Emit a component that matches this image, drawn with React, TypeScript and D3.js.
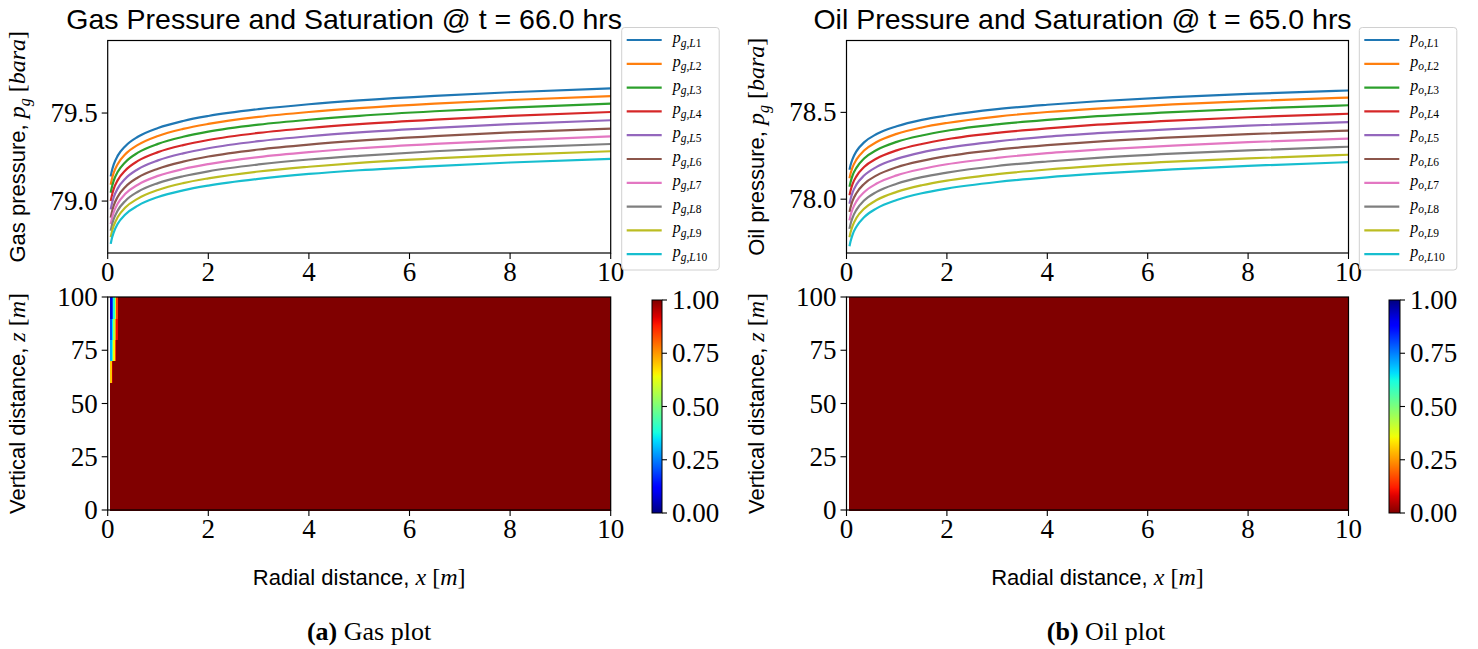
import React from "react";
import * as d3 from "d3";

// ---------------- DATA ----------------
const radial = [0.06, 0.08, 0.12, 0.2, 0.35, 0.6, 1, 1.5, 2, 3, 4, 5, 6.5, 8, 10];

const gasL1 = [79.14, 79.168, 79.208, 79.258, 79.312, 79.365, 79.415, 79.455, 79.483, 79.522, 79.55, 79.572, 79.598, 79.618, 79.64];
const gasL2 = [79.093, 79.121, 79.161, 79.211, 79.266, 79.319, 79.37, 79.41, 79.438, 79.478, 79.506, 79.528, 79.554, 79.574, 79.596];
const gasL3 = [79.047, 79.075, 79.116, 79.166, 79.221, 79.275, 79.325, 79.365, 79.394, 79.434, 79.462, 79.484, 79.51, 79.531, 79.553];
const gasL4 = [79.0, 79.028, 79.069, 79.119, 79.174, 79.228, 79.278, 79.318, 79.347, 79.387, 79.415, 79.437, 79.463, 79.484, 79.506];
const gasL5 = [78.953, 78.981, 79.022, 79.072, 79.127, 79.181, 79.231, 79.271, 79.3, 79.34, 79.368, 79.39, 79.416, 79.437, 79.459];
const gasL6 = [78.906, 78.934, 78.975, 79.025, 79.08, 79.134, 79.184, 79.224, 79.253, 79.293, 79.321, 79.343, 79.369, 79.39, 79.412];
const gasL7 = [78.869, 78.897, 78.937, 78.986, 79.041, 79.093, 79.143, 79.182, 79.21, 79.25, 79.278, 79.3, 79.325, 79.345, 79.367];
const gasL8 = [78.831, 78.859, 78.898, 78.947, 79.001, 79.053, 79.102, 79.141, 79.169, 79.208, 79.236, 79.257, 79.283, 79.303, 79.324];
const gasL9 = [78.794, 78.822, 78.86, 78.909, 78.963, 79.014, 79.063, 79.102, 79.129, 79.168, 79.195, 79.217, 79.242, 79.262, 79.283];
const gasL10 = [78.757, 78.784, 78.822, 78.871, 78.924, 78.974, 79.023, 79.061, 79.088, 79.126, 79.154, 79.175, 79.199, 79.219, 79.24];

const oilL1 = [78.169, 78.195, 78.231, 78.277, 78.327, 78.375, 78.42, 78.457, 78.482, 78.519, 78.544, 78.564, 78.588, 78.606, 78.626];
const oilL2 = [78.12, 78.146, 78.183, 78.229, 78.28, 78.329, 78.376, 78.413, 78.439, 78.476, 78.502, 78.522, 78.546, 78.565, 78.585];
const oilL3 = [78.072, 78.098, 78.136, 78.182, 78.234, 78.283, 78.33, 78.367, 78.394, 78.431, 78.457, 78.478, 78.502, 78.521, 78.541];
const oilL4 = [78.023, 78.049, 78.087, 78.133, 78.185, 78.234, 78.281, 78.318, 78.345, 78.382, 78.408, 78.429, 78.453, 78.472, 78.492];
const oilL5 = [77.974, 78.0, 78.038, 78.085, 78.136, 78.186, 78.232, 78.27, 78.296, 78.333, 78.36, 78.38, 78.404, 78.424, 78.444];
const oilL6 = [77.926, 77.952, 77.99, 78.036, 78.088, 78.137, 78.184, 78.221, 78.248, 78.285, 78.311, 78.332, 78.356, 78.375, 78.395];
const oilL7 = [77.878, 77.905, 77.942, 77.989, 78.04, 78.09, 78.137, 78.174, 78.201, 78.238, 78.265, 78.285, 78.309, 78.329, 78.349];
const oilL8 = [77.829, 77.856, 77.893, 77.94, 77.992, 78.042, 78.089, 78.127, 78.153, 78.191, 78.217, 78.238, 78.262, 78.281, 78.302];
const oilL9 = [77.781, 77.808, 77.845, 77.893, 77.945, 77.995, 78.042, 78.08, 78.107, 78.144, 78.171, 78.192, 78.216, 78.235, 78.256];
const oilL10 = [77.729, 77.756, 77.795, 77.843, 77.896, 77.947, 77.995, 78.034, 78.061, 78.099, 78.126, 78.147, 78.172, 78.192, 78.213];

const gasSeries = [gasL1, gasL2, gasL3, gasL4, gasL5, gasL6, gasL7, gasL8, gasL9, gasL10];
const oilSeries = [oilL1, oilL2, oilL3, oilL4, oilL5, oilL6, oilL7, oilL8, oilL9, oilL10];
const layerNames = ["1", "2", "3", "4", "5", "6", "7", "8", "9", "10"];

const xTicks = [0, 2, 4, 6, 8, 10];
const gasYTicks = [79.0, 79.5];
const oilYTicks = [78.0, 78.5];
const zTicks = [0, 25, 50, 75, 100];
const cbTicks = [0, 0.25, 0.5, 0.75, 1];

// saturation grid (radial cell edges, depth cell edges), rows bottom -> top
const satRadialEdges = [0.05, 0.08, 0.11, 0.14, 0.17, 0.2, 10];
const satDepthEdges = [0, 10, 20, 30, 40, 50, 60, 70, 80, 90, 100];
const gasSat = [
  [1, 1, 1, 1, 1, 1],
  [1, 1, 1, 1, 1, 1],
  [1, 1, 1, 1, 1, 1],
  [1, 1, 1, 1, 1, 1],
  [1, 1, 1, 1, 1, 1],
  [1, 1, 1, 1, 1, 1],
  [0.7, 0.95, 1, 1, 1, 1],
  [0.3, 0.45, 0.65, 0.85, 1, 1],
  [0.2, 0.35, 0.55, 0.75, 0.9, 1],
  [0.08, 0.2, 0.4, 0.6, 0.85, 1],
];
const oilSat = [
  [0, 0, 0, 0, 0, 0],
  [0, 0, 0, 0, 0, 0],
  [0, 0, 0, 0, 0, 0],
  [0, 0, 0, 0, 0, 0],
  [0, 0, 0, 0, 0, 0],
  [0, 0, 0, 0, 0, 0],
  [0, 0, 0, 0, 0, 0],
  [0, 0, 0, 0, 0, 0],
  [0, 0, 0, 0, 0, 0],
  [0, 0, 0, 0, 0, 0],
];

// ---------------- STYLE ----------------
const SANS = "'Liberation Sans', Arial, sans-serif";
const SERIF = "'Liberation Serif', 'Times New Roman', serif";
const colors = d3.schemeCategory10;

const jetR = d3.scaleLinear().domain([0, 0.35, 0.66, 0.89, 1]).range([0, 0, 1, 1, 0.5]).clamp(true);
const jetG = d3.scaleLinear().domain([0, 0.125, 0.375, 0.64, 0.91, 1]).range([0, 0, 1, 1, 0, 0]).clamp(true);
const jetB = d3.scaleLinear().domain([0, 0.11, 0.34, 0.65, 1]).range([0.5, 1, 1, 0, 0]).clamp(true);
const jet = (t: number) => d3.rgb(255 * jetR(t), 255 * jetG(t), 255 * jetB(t)).formatHex();
const jetRev = (t: number) => jet(1 - t);

const TOP_Y0 = 40.5, TOP_Y1 = 253;
const BOT_Y0 = 297, BOT_Y1 = 510;
const TICK_FS = 27;
const LABEL_FS = 22;

type PanelProps = {
  id: string;
  x0: number;
  x1: number;
  sym: string;
  series: number[][];
  yDomain: [number, number];
  yTicks: number[];
  title: string;
  yLabel: string;
  sat: number[][];
  cmap: (t: number) => string;
  cbX: number;
  cbW: number;
  legendX: number;
  caption: [string, string];
  captionX: number;
};

function Panel(p: PanelProps) {
  const xs = d3.scaleLinear().domain([0, 10]).range([p.x0, p.x1]);
  const ys = d3.scaleLinear().domain(p.yDomain).range([TOP_Y1, TOP_Y0]);
  const zs = d3.scaleLinear().domain([0, 100]).range([BOT_Y1, BOT_Y0]);
  const cbs = d3.scaleLinear().domain([0, 1]).range([513, 300]);
  const line = d3
    .line<number>()
    .x((_, i) => xs(radial[i]))
    .y((d) => ys(d))
    .curve(d3.curveMonotoneX);
  const cx = (p.x0 + p.x1) / 2;
  const gradStops = d3.range(0, 1.0001, 0.02);
  const legendY0 = 27.5;
  const legendStep = 23.8;

  return (
    <g>
      <defs>
        <clipPath id={`clip-${p.id}`}>
          <rect x={p.x0} y={TOP_Y0} width={p.x1 - p.x0} height={TOP_Y1 - TOP_Y0} />
        </clipPath>
        <linearGradient id={`grad-${p.id}`} x1="0" y1="1" x2="0" y2="0">
          {gradStops.map((t) => (
            <stop key={t} offset={t} stopColor={p.cmap(t)} />
          ))}
        </linearGradient>
      </defs>

      {/* title */}
      <text x={cx - 15} y={29} textAnchor="middle" fontFamily={SANS} fontSize={28.5}>
        {p.title}
      </text>

      {/* top pressure plot */}
      <g clipPath={`url(#clip-${p.id})`}>
        {p.series.map((s, i) => (
          <path key={i} d={line(s) || ""} fill="none" stroke={colors[i]} strokeWidth={2.2} />
        ))}
      </g>
      <rect x={p.x0} y={TOP_Y0} width={p.x1 - p.x0} height={TOP_Y1 - TOP_Y0} fill="none" stroke="#000" strokeWidth={1.2} />
      {xTicks.map((t) => (
        <g key={t}>
          <line x1={xs(t)} x2={xs(t)} y1={TOP_Y1} y2={TOP_Y1 + 6} stroke="#000" strokeWidth={1.1} />
          <text x={xs(t)} y={TOP_Y1 + 28} textAnchor="middle" fontFamily={SERIF} fontSize={TICK_FS}>
            {t}
          </text>
        </g>
      ))}
      {p.yTicks.map((t) => (
        <g key={t}>
          <line x1={p.x0 - 6} x2={p.x0} y1={ys(t)} y2={ys(t)} stroke="#000" strokeWidth={1.1} />
          <text x={p.x0 - 10} y={ys(t) + 9} textAnchor="end" fontFamily={SERIF} fontSize={TICK_FS}>
            {t.toFixed(1)}
          </text>
        </g>
      ))}
      <text transform={`translate(${p.x0 - 83},${(TOP_Y0 + TOP_Y1) / 2}) rotate(-90)`} textAnchor="middle" fontSize={LABEL_FS}>
        <tspan fontFamily={SANS}>{p.yLabel}</tspan>
        <tspan fontFamily={SERIF} fontStyle="italic" fontSize={LABEL_FS + 2}>p</tspan>
        <tspan fontFamily={SERIF} fontStyle="italic" fontSize={16} dy={5}>g</tspan>
        <tspan fontFamily={SERIF} fontSize={LABEL_FS + 2} dy={-5}>{" ["}</tspan>
        <tspan fontFamily={SERIF} fontStyle="italic" fontSize={LABEL_FS + 2}>bara</tspan>
        <tspan fontFamily={SERIF} fontSize={LABEL_FS + 2}>]</tspan>
      </text>

      {/* legend */}
      <rect x={p.legendX} y={legendY0} width={97.5} height={242.5} rx={3} fill="#fff" fillOpacity={0.8} stroke="#d0d0d0" strokeWidth={1} />
      {layerNames.map((n, i) => {
        const yy = legendY0 + 12.5 + i * legendStep;
        return (
          <g key={n}>
            <line x1={p.legendX + 5} x2={p.legendX + 40} y1={yy} y2={yy} stroke={colors[i]} strokeWidth={2.2} />
            <text x={p.legendX + 51} y={yy + 3} fontFamily={SERIF} fontSize={16}>
              <tspan fontStyle="italic">p</tspan>
              <tspan fontSize={11.5} dy={3.5}>
                <tspan fontStyle="italic">{p.sym}</tspan>
                <tspan>,</tspan>
                <tspan fontStyle="italic">L</tspan>
                <tspan>{n}</tspan>
              </tspan>
            </text>
          </g>
        );
      })}

      {/* saturation heatmap */}
      <rect x={p.x0} y={BOT_Y0} width={p.x1 - p.x0} height={BOT_Y1 - BOT_Y0} fill="#fff" />
      <g shapeRendering="crispEdges">
        {p.sat.map((row, ri) =>
          row.map((v, ci) => (
            <rect
              key={`${ri}-${ci}`}
              x={xs(satRadialEdges[ci])}
              y={zs(satDepthEdges[ri + 1])}
              width={xs(satRadialEdges[ci + 1]) - xs(satRadialEdges[ci]) + 0.5}
              height={zs(satDepthEdges[ri]) - zs(satDepthEdges[ri + 1]) + 0.5}
              fill={p.cmap(v)}
            />
          ))
        )}
      </g>
      <rect x={p.x0} y={BOT_Y0} width={p.x1 - p.x0} height={BOT_Y1 - BOT_Y0} fill="none" stroke="#000" strokeWidth={1.2} />
      {xTicks.map((t) => (
        <g key={t}>
          <line x1={xs(t)} x2={xs(t)} y1={BOT_Y1} y2={BOT_Y1 + 6} stroke="#000" strokeWidth={1.1} />
          <text x={xs(t)} y={BOT_Y1 + 28} textAnchor="middle" fontFamily={SERIF} fontSize={TICK_FS}>
            {t}
          </text>
        </g>
      ))}
      {zTicks.map((t) => (
        <g key={t}>
          <line x1={p.x0 - 6} x2={p.x0} y1={zs(t)} y2={zs(t)} stroke="#000" strokeWidth={1.1} />
          <text x={p.x0 - 10} y={zs(t) + 9} textAnchor="end" fontFamily={SERIF} fontSize={TICK_FS}>
            {t}
          </text>
        </g>
      ))}
      <text transform={`translate(${p.x0 - 83},${(BOT_Y0 + BOT_Y1) / 2}) rotate(-90)`} textAnchor="middle" fontSize={LABEL_FS}>
        <tspan fontFamily={SANS}>Vertical distance, </tspan>
        <tspan fontFamily={SERIF} fontStyle="italic" fontSize={LABEL_FS + 2}>z</tspan>
        <tspan fontFamily={SERIF} fontSize={LABEL_FS + 2}>{" ["}</tspan>
        <tspan fontFamily={SERIF} fontStyle="italic" fontSize={LABEL_FS + 2}>m</tspan>
        <tspan fontFamily={SERIF} fontSize={LABEL_FS + 2}>]</tspan>
      </text>
      <text x={cx} y={585} textAnchor="middle" fontSize={LABEL_FS}>
        <tspan fontFamily={SANS}>Radial distance, </tspan>
        <tspan fontFamily={SERIF} fontStyle="italic" fontSize={LABEL_FS + 2}>x</tspan>
        <tspan fontFamily={SERIF} fontSize={LABEL_FS + 2}>{" ["}</tspan>
        <tspan fontFamily={SERIF} fontStyle="italic" fontSize={LABEL_FS + 2}>m</tspan>
        <tspan fontFamily={SERIF} fontSize={LABEL_FS + 2}>]</tspan>
      </text>

      {/* colorbar */}
      <rect x={p.cbX} y={cbs(1)} width={p.cbW} height={cbs(0) - cbs(1)} fill={`url(#grad-${p.id})`} stroke="#000" strokeWidth={1} />
      {cbTicks.map((t) => (
        <g key={t}>
          <line x1={p.cbX + p.cbW} x2={p.cbX + p.cbW + 5} y1={cbs(t)} y2={cbs(t)} stroke="#000" strokeWidth={1.1} />
          <text x={p.cbX + p.cbW + 10} y={cbs(t) + 9} fontFamily={SERIF} fontSize={TICK_FS}>
            {t.toFixed(2)}
          </text>
        </g>
      ))}

      {/* caption */}
      <text x={p.captionX} y={640} textAnchor="middle" fontFamily={SERIF} fontSize={26}>
        <tspan fontWeight="bold">{p.caption[0]}</tspan>
        <tspan>{" " + p.caption[1]}</tspan>
      </text>
    </g>
  );
}

export default function App() {
  return (
    <svg
      width={1478}
      height={649}
      viewBox="0 0 1478 649"
      style={{ position: "absolute", left: 0, top: 0, background: "#fff" }}
    >
      <rect x={0} y={0} width={1478} height={649} fill="#fff" />
      <Panel
        id="gas"
        x0={107.7}
        x1={610.7}
        sym="g"
        series={gasSeries}
        yDomain={[78.705, 79.912]}
        yTicks={gasYTicks}
        title="Gas Pressure and Saturation @ t = 66.0 hrs"
        yLabel="Gas pressure, "
        sat={gasSat}
        cmap={jet}
        cbX={652}
        cbW={10}
        legendX={621.7}
        caption={["(a)", "Gas plot"]}
        captionX={369}
      />
      <Panel
        id="oil"
        x0={846.5}
        x1={1348.5}
        sym="o"
        series={oilSeries}
        yDomain={[77.69, 78.914]}
        yTicks={oilYTicks}
        title="Oil Pressure and Saturation @ t = 65.0 hrs"
        yLabel="Oil pressure, "
        sat={oilSat}
        cmap={jetRev}
        cbX={1389}
        cbW={11}
        legendX={1359.3}
        caption={["(b)", "Oil plot"]}
        captionX={1106}
      />
    </svg>
  );
}
